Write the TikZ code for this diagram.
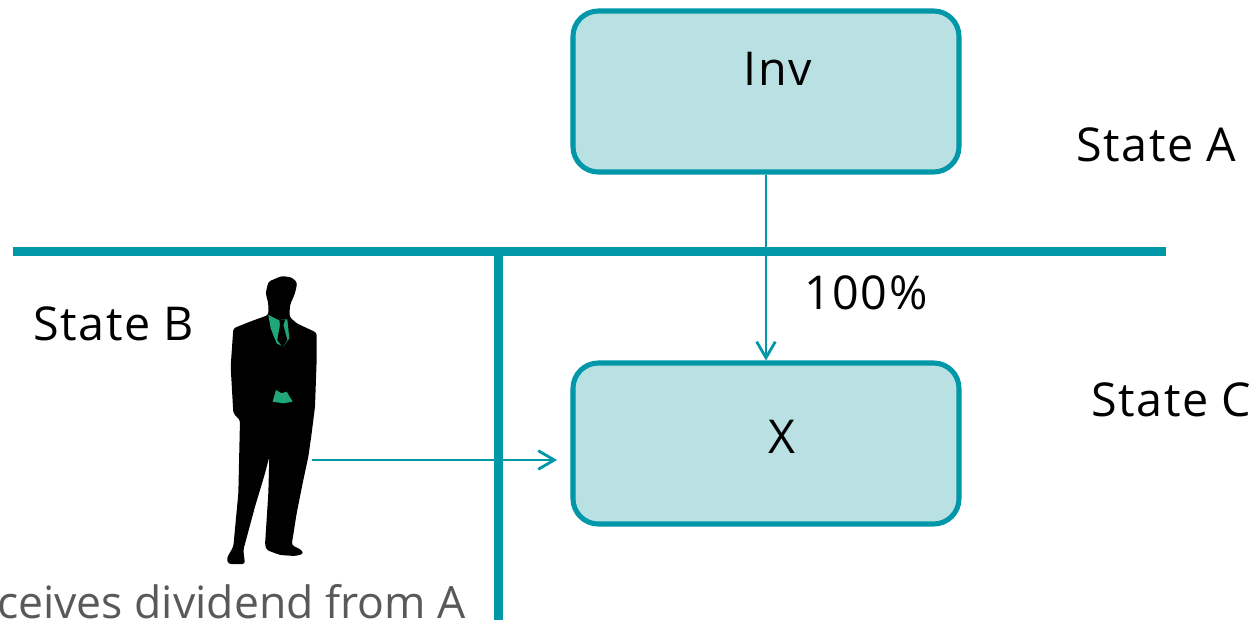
\documentclass[tikz,border=0pt]{standalone}
\usepackage{fontspec}
\setmainfont[LetterSpace=3.4]{Open Sans}
\newfontfamily\plainfam{Open Sans}
\usetikzlibrary{arrows.meta}
\definecolor{teal1}{HTML}{0097A9}
\definecolor{fill1}{HTML}{B9E0E3}
\definecolor{gray1}{HTML}{595959}
\definecolor{green1}{HTML}{1FA77A}
\tikzset{
  box/.style={draw=teal1,fill=fill1,line width=3.8pt,rounded corners=19pt,minimum width=289.5pt,minimum height=120.75pt,inner sep=0pt},
  rule/.style={draw=teal1,line width=6.8pt},
  link/.style={draw=teal1,line width=2.1pt,-{Straight Barb[length=12pt,width=14pt,line width=2.1pt]}},
  lab/.style={font=\fontsize{35pt}{40pt}\selectfont,text=black,inner sep=0pt},
  caption/.style={font=\plainfam\fontsize{33.4pt}{38pt}\selectfont,text=gray1,inner sep=0pt},
}
\begin{document}
\begin{tikzpicture}[x=0.75pt,y=-0.75pt]
\useasboundingbox (0,0) rectangle (1258,619);
\clip (0,0) rectangle (1258,619);
\coordinate (r1) at (13,251.5);
\coordinate (r2) at (1166,251.5);
\coordinate (r3) at (498.5,251.5);
\coordinate (r4) at (498.5,625);
\draw[rule] (r1) -- (r2);
\draw[rule] (r3) -- (r4);
\node[box] (inv) at (766,91.5) {};
\node[box] (x) at (766,443.5) {};
\node[lab,anchor=base] (invt) at (778,85) {Inv};
\node[lab,anchor=base] (xt) at (782,453) {X};
\node[lab,anchor=base west] (sa) at (1076,161) {State A};
\node[lab,anchor=base west] (sb) at (33,340) {State B};
\node[lab,anchor=base west] (sc) at (1091,416) {State C};
\node[lab,anchor=base west] (pct) at (804,309) {100\%};
\node[caption,anchor=base east] (recv) at (466,618) {ceives dividend from A};
% man silhouette
\begin{scope}[shift={(200,260)},x=0.25pt,y=-0.25pt]
\fill[black,rounded corners=2pt] (245,48) -- (275,52) -- (292,68) -- (285,100) -- (270,135) -- (268,170) -- (290,190) -- (350,218) -- (350,300) -- (345,440) -- (335,520) -- (325,590) -- (310,660) -- (290,760) -- (275,855) -- (305,870) -- (310,882) -- (285,888) -- (240,885) -- (200,870) -- (195,855) -- (205,700) -- (208,590) -- (195,640) -- (165,740) -- (130,870) -- (135,912) -- (85,912) -- (80,895) -- (100,860) -- (115,700) -- (120,480) -- (100,460) -- (92,320) -- (100,205) -- (150,185) -- (205,165) -- (205,130) -- (197,100) -- (205,65) -- cycle;
\fill[green1] (205,165) -- (235,180) -- (262,178) -- (268,235) -- (250,260) -- (230,250) -- (212,205) -- cycle;
\fill[black] (238,180) -- (255,180) -- (250,195) -- (262,240) -- (248,262) -- (232,240) -- (240,195) -- cycle;
\fill[green1] (218,425) -- (228,390) -- (245,400) -- (260,395) -- (278,425) -- (250,430) -- cycle;
\end{scope}
\coordinate (man) at (312,460);
\coordinate (xin) at (557,460);
\draw[link] (man) -- (xin);
\draw[link] (inv.south) -- (x.north);
\end{tikzpicture}
\end{document}
